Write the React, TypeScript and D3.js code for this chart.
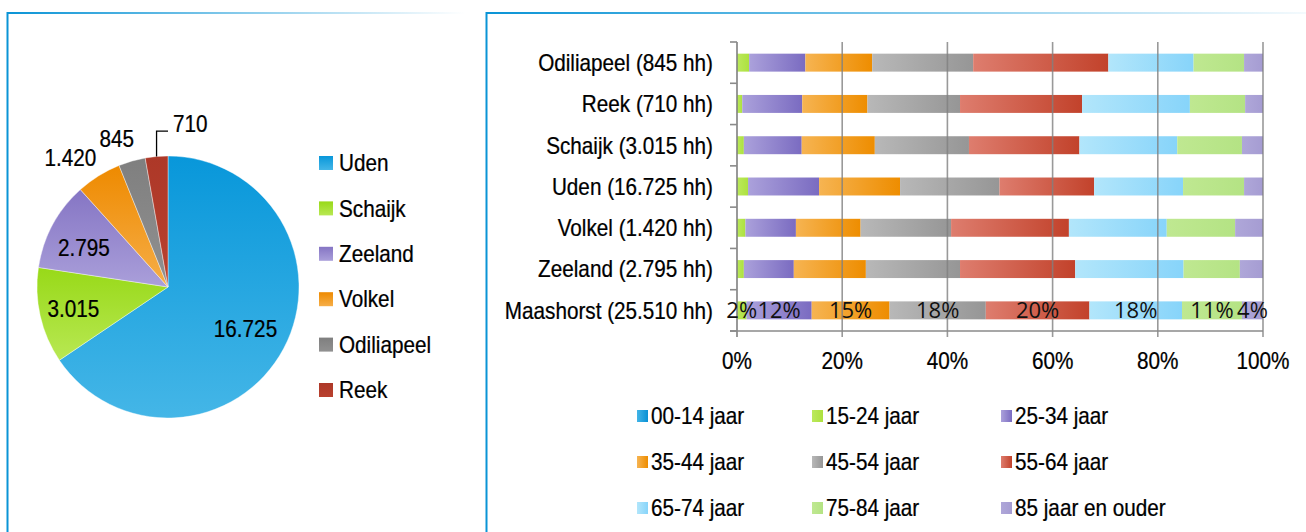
import React from 'react';
import * as d3 from 'd3';

// ---------- data ----------
const kernen = ['Uden', 'Schaijk', 'Zeeland', 'Volkel', 'Odiliapeel', 'Reek'];
const huishoudens = [16725, 3015, 2795, 1420, 845, 710];
const huishoudensLabels = ['16.725', '3.015', '2.795', '1.420', '845', '710'];

const rijen = [
  'Odiliapeel (845 hh)',
  'Reek (710 hh)',
  'Schaijk (3.015 hh)',
  'Uden (16.725 hh)',
  'Volkel (1.420 hh)',
  'Zeeland (2.795 hh)',
  'Maashorst (25.510 hh)',
];
const leeftijden = [
  '00-14 jaar', '15-24 jaar', '25-34 jaar',
  '35-44 jaar', '45-54 jaar', '55-64 jaar',
  '65-74 jaar', '75-84 jaar', '85 jaar en ouder',
];
const odiliapeel = [0, 2.3, 10.7, 12.7, 19.2, 25.7, 16.2, 9.6, 3.6];
const reek = [0, 1.0, 11.4, 12.4, 17.6, 23.2, 20.5, 10.5, 3.4];
const schaijk = [0, 1.3, 11.0, 13.9, 17.9, 21.0, 18.6, 12.3, 4.0];
const uden = [0, 2.1, 13.5, 15.4, 18.9, 18.0, 16.9, 11.6, 3.6];
const volkel = [0, 1.6, 9.6, 12.3, 17.2, 22.4, 18.6, 13.0, 5.3];
const zeeland = [0, 1.3, 9.5, 13.7, 17.9, 21.9, 20.6, 10.7, 4.4];
const maashorst = [0, 1.8, 12.4, 14.8, 18.3, 19.7, 17.6, 11.4, 4.0];
const xTicks = [0, 20, 40, 60, 80, 100];

// ---------- styles ----------
const FONT = "'Liberation Sans', Arial, sans-serif";
const SX = 0.9;
const FS = 23;
const LABEL_FONT = "'Open Sans', 'Noto Sans', sans-serif";
const pieColors: [string, string][] = [
  ['#0897da', '#44b6e7'],
  ['#98d918', '#b8e853'],
  ['#8575c4', '#aa9fda'],
  ['#ee8a00', '#f6ae48'],
  ['#7f7f7f', '#919191'],
  ['#ad3828', '#b9412f'],
];
const ageColors: [string, string][] = [
  ['#42b4e7', '#0891d5'],
  ['#bbe95c', '#ade13f'],
  ['#aba1db', '#7a6bc1'],
  ['#f6b452', '#ee8d00'],
  ['#b8b8b8', '#969696'],
  ['#de7d6e', '#c2422b'],
  ['#b2e6fb', '#87d4fa'],
  ['#bfe891', '#b4e384'],
  ['#afa7d9', '#a59cd2'],
];

const W = 1306;
const H = 532;

function T({ x, y, anchor = 'start', children }: { x: number; y: number; anchor?: string; children: React.ReactNode }) {
  return (
    <g transform={`translate(${x},${y}) scale(${SX},1)`}>
      <text x={0} y={0} dy="0.36em" textAnchor={anchor} fontFamily={FONT} fontSize={FS} fill="#000" stroke="#000" strokeWidth={0.25}>
        {children}
      </text>
    </g>
  );
}

export default function App() {
  // ---------- pie ----------
  const cx = 168, cy = 287, R = 131;
  const pie = d3.pie<number>().sort(null).value((d) => d)(huishoudens);
  const arc = d3.arc<d3.PieArcDatum<number>>().innerRadius(0).outerRadius(R);
  const labelArc = (k: number) => d3.arc<d3.PieArcDatum<number>>().innerRadius(R * k).outerRadius(R * k);
  const labelPlacement = [
    { k: 0.67, shift: 0 },
    { k: 0.74, shift: 0 },
    { k: 0.71, shift: -3 },
    { k: 1.24, shift: -5 },
    { k: 1.2, shift: -3 },
    { k: 0, shift: 0 },
  ];

  // ---------- bars ----------
  const series = [odiliapeel, reek, schaijk, uden, volkel, zeeland, maashorst];
  const x = d3.scaleLinear().domain([0, 100]).range([737, 1263]);
  const y = d3.scaleBand<string>().domain(rijen).range([42, 331]).paddingInner(0.565).paddingOuter(0.2825);
  const stacked = series.map((vals) => {
    let acc = 0;
    return vals.map((v) => {
      const s = acc;
      acc += v;
      return [s, acc];
    });
  });

  const legendCols = [637, 812, 1001];
  const legendRows = [416, 462, 508];

  return (
    <svg width={W} height={H} style={{ display: 'block', position: 'absolute', left: 0, top: 0 }}>
      <defs>
        <linearGradient id="topLeft" x1="0" x2="1" y1="0" y2="0">
          <stop offset="0" stopColor="#0a94d6" />
          <stop offset="1" stopColor="#ffffff" />
        </linearGradient>
        <linearGradient id="topRight" x1="0" x2="1" y1="0" y2="0">
          <stop offset="0" stopColor="#0a94d6" />
          <stop offset="1" stopColor="#f4fafd" />
        </linearGradient>
        {pieColors.map((c, i) => (
          <linearGradient key={i} id={`pie${i}`} x1="0" x2="0" y1="0" y2="1">
            <stop offset="0" stopColor={c[0]} />
            <stop offset="1" stopColor={c[1]} />
          </linearGradient>
        ))}
        {ageColors.map((c, i) => (
          <linearGradient key={i} id={`age${i}`} x1="0" x2="1" y1="0" y2="0">
            <stop offset="0" stopColor={c[0]} />
            <stop offset="1" stopColor={c[1]} />
          </linearGradient>
        ))}
      </defs>
      <rect x={0} y={0} width={W} height={H} fill="#fff" />

      {/* panel frames */}
      <rect x={7} y={12} width={458} height={2} fill="url(#topLeft)" />
      <rect x={6.5} y={12} width={2} height={H - 12} fill="#0a94d6" />
      <rect x={486} y={12} width={W - 486} height={2} fill="url(#topRight)" />
      <rect x={485.5} y={12} width={2} height={H - 12} fill="#0a94d6" />

      {/* pie */}
      <g transform={`translate(${cx},${cy})`}>
        {pie.map((p, i) => (
          <path key={i} d={arc(p) as string} fill={`url(#pie${i})`} stroke="#ffffff" strokeWidth={0.4} />
        ))}
        {pie.map((p, i) => {
          const pl = labelPlacement[i];
          if (pl.k === 0) return null;
          const sh = (pl.shift * Math.PI) / 180;
          const q = { ...p, startAngle: p.startAngle + sh, endAngle: p.endAngle + sh };
          const [lx, ly] = labelArc(pl.k).centroid(q);
          return (
            <T key={i} x={lx} y={ly} anchor="middle">
              {huishoudensLabels[i]}
            </T>
          );
        })}
        {(() => {
          const p = pie[5];
          const mid = (p.startAngle + p.endAngle) / 2;
          const sx = Math.sin(mid) * R;
          const sy = -Math.cos(mid) * R;
          const ty = -R * 1.19;
          return (
            <g>
              <path d={`M${sx},${sy}V${ty}H0`} fill="none" stroke="#000" strokeWidth={1.3} />
              <T x={5} y={-R * 1.25}>{huishoudensLabels[5]}</T>
            </g>
          );
        })()}
      </g>

      {/* pie legend */}
      {kernen.map((k, i) => {
        const ly = 163 + i * 45.4;
        return (
          <g key={k}>
            <rect x={319} y={ly - 7} width={14} height={14} fill={`url(#pie${i})`} />
            <T x={339} y={ly}>{k}</T>
          </g>
        );
      })}

      {/* bars */}
      {stacked.map((row, ri) =>
        row.map(([s, e], ai) =>
          e - s > 0 ? (
            <rect
              key={`${ri}-${ai}`}
              x={x(s)}
              y={y(rijen[ri])}
              width={x(e) - x(s)}
              height={y.bandwidth()}
              fill={`url(#age${ai})`}
            />
          ) : null
        )
      )}

      {/* gridlines */}
      {xTicks.map((t) => (
        <line key={t} x1={x(t)} x2={x(t)} y1={42} y2={337} stroke="#7f7f7f" strokeWidth={1.6} strokeOpacity={t === 0 ? 1 : 0.8} />
      ))}
      <line x1={730} x2={1263} y1={331} y2={331} stroke="#8a8a8a" strokeWidth={1.6} />
      {d3.range(rijen.length + 1).map((i) => {
        const yy = 42 + i * y.step();
        return <line key={i} x1={730} x2={737} y1={yy} y2={yy} stroke="#8a8a8a" strokeWidth={1.6} />;
      })}

      {/* category labels */}
      {rijen.map((r) => (
        <T key={r} x={713} y={(y(r) as number) + y.bandwidth() / 2} anchor="end">
          {r}
        </T>
      ))}

      {/* data labels on Maashorst */}
      {stacked[6].map(([s, e], ai) =>
        e - s > 0 ? (
          <text
            key={ai}
            x={(x(s) + x(e)) / 2}
            y={(y(rijen[6]) as number) + y.bandwidth() / 2}
            dy="0.36em"
            textAnchor="middle"
            fontFamily={LABEL_FONT}
            fontSize={22}
            fill="#111"
          >
            {`${Math.round(maashorst[ai])}%`}
          </text>
        ) : null
      )}

      {/* x tick labels */}
      {xTicks.map((t) => (
        <T key={t} x={x(t)} y={361} anchor="middle">{`${t}%`}</T>
      ))}

      {/* bottom legend */}
      {leeftijden.map((l, i) => {
        const lx = legendCols[i % 3];
        const ly = legendRows[Math.floor(i / 3)];
        return (
          <g key={l}>
            <rect x={lx} y={ly - 6} width={11} height={12} fill={`url(#age${i})`} />
            <T x={lx + 14} y={ly}>{l}</T>
          </g>
        );
      })}
    </svg>
  );
}
